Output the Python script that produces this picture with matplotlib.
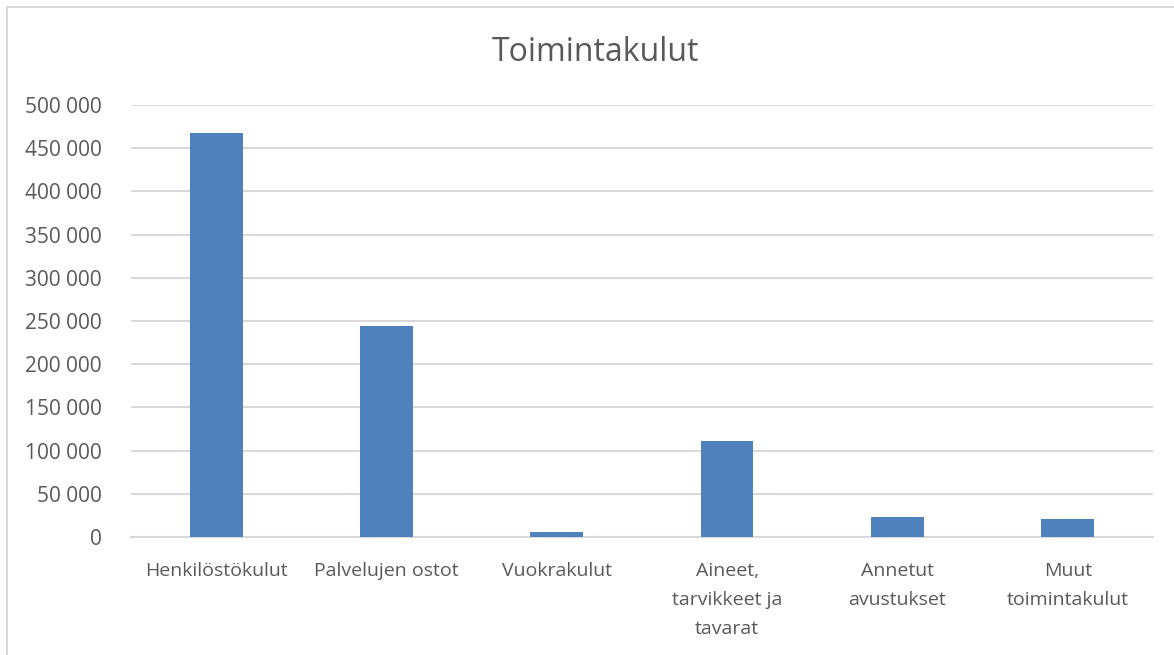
import matplotlib.pyplot as plt
from matplotlib.lines import Line2D
from matplotlib.ticker import FuncFormatter

# Chart data
categories = [
    "Henkilöstökulut",
    "Palvelujen ostot",
    "Vuokrakulut",
    "Aineet,\ntarvikkeet ja\ntavarat",
    "Annetut\navustukset",
    "Muut\ntoimintakulut",
]
values = [467300, 244600, 5500, 111500, 23800, 20800]
y_ticks = [0, 50000, 100000, 150000, 200000, 250000, 300000, 350000, 400000, 450000, 500000]

text_color = "#595959"
bar_color = "#4F81BD"
grid_color = "#D9D9D9"

plt.rcParams["font.family"] = ["Open Sans", "DejaVu Sans"]

fig = plt.figure(figsize=(11.74, 6.55), dpi=100)
ax = fig.add_axes([0.1116, 0.180, 0.8704, 0.6597])

x = range(len(categories))
ax.bar(x, values, width=0.31, color=bar_color, zorder=3)

ax.set_xlim(-0.5, len(categories) - 0.5)
ax.set_ylim(0, 500000)
ax.set_yticks(y_ticks)
ax.yaxis.set_major_formatter(FuncFormatter(lambda v, p: f"{int(v):,}".replace(",", " ")))
ax.set_xticks(list(x))
ax.set_xticklabels(categories, linespacing=1.77, va="top")

ax.grid(axis="y", color=grid_color, linewidth=1.5, zorder=0)
for side in ["top", "right", "left"]:
    ax.spines[side].set_visible(False)
ax.spines["bottom"].set_color(grid_color)
ax.spines["bottom"].set_linewidth(1.5)
ax.tick_params(axis="both", length=0, colors=text_color)
ax.tick_params(axis="y", pad=21, labelsize=15)
ax.tick_params(axis="x", pad=18, labelsize=14)

fig.text(0.507, 0.920, "Toimintakulut", ha="center", va="center",
         fontsize=23, color=text_color)

# light outer frame (top and left edges visible in the reference)
fig.add_artist(Line2D([7 / 1174, 1], [1 - 7 / 655, 1 - 7 / 655],
                      transform=fig.transFigure, color=grid_color, linewidth=1.5))
fig.add_artist(Line2D([7 / 1174, 7 / 1174], [0, 1 - 7 / 655],
                      transform=fig.transFigure, color=grid_color, linewidth=1.5))

fig.savefig("out.png", dpi=100)
